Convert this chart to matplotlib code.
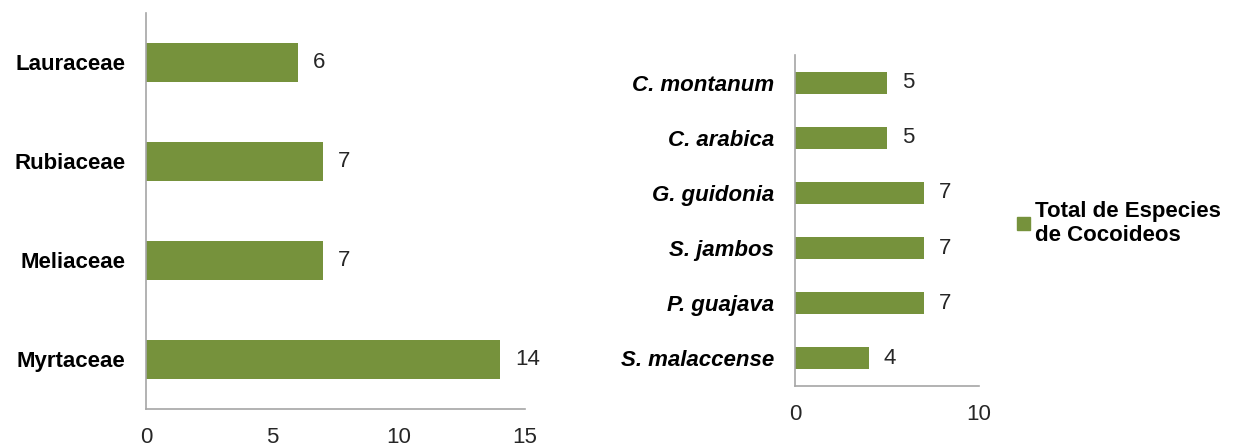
import matplotlib
matplotlib.use("Agg")
import matplotlib.pyplot as plt
from matplotlib.patches import Patch

plt.rcParams['font.family'] = ['Liberation Sans', 'DejaVu Sans']

families = ['Myrtaceae', 'Meliaceae', 'Rubiaceae', 'Lauraceae']
family_counts = [14, 7, 7, 6]

species = ['S. malaccense', 'P. guajava', 'S. jambos', 'G. guidonia', 'C. arabica', 'C. montanum']
species_counts = [4, 7, 7, 7, 5, 5]

legend_label = 'Total de Especies\nde Cocoideos'

GREEN = '#76923C'
AXIS = '#A6A6A6'
TEXT = '#262626'

fig = plt.figure(figsize=(12.33, 4.47), dpi=100)
ax1 = fig.add_axes([0.1184, 0.085, 0.3074, 0.886])
ax2 = fig.add_axes([0.6448, 0.1365, 0.1492, 0.7405])


def style(ax, labels, xmax, ticks, italic):
    ax.set_xlim(0, xmax)
    ax.set_ylim(-0.5, len(labels) - 0.5)
    ax.set_xticks(ticks)
    ax.set_yticks(range(len(labels)))
    ax.set_yticklabels(labels, fontsize=16, fontweight='bold',
                       fontstyle='italic' if italic else 'normal', color='black')
    ax.tick_params(axis='both', length=0)
    ax.tick_params(axis='y', pad=15)
    ax.tick_params(axis='x', pad=13, labelsize=16, labelcolor=TEXT)
    for s in ['top', 'right']:
        ax.spines[s].set_visible(False)
    for s in ['left', 'bottom']:
        ax.spines[s].set_color(AXIS)
        ax.spines[s].set_linewidth(1.2)


bars1 = ax1.barh(range(len(families)), family_counts, height=0.39, color=GREEN)
ax1.bar_label(bars1, padding=11, fontsize=16, color=TEXT)
style(ax1, families, 15, [0, 5, 10, 15], False)

bars2 = ax2.barh(range(len(species)), species_counts, height=0.4, color=GREEN)
ax2.bar_label(bars2, padding=11, fontsize=16, color=TEXT)
style(ax2, species, 10, [0, 10], True)

fig.legend(handles=[Patch(color=GREEN)], labels=[legend_label],
           loc='center left', bbox_to_anchor=(0.818, 0.5), frameon=False,
           prop={'size': 16, 'weight': 'bold'}, handlelength=0.55, handleheight=0.55,
           handletextpad=0.25, borderaxespad=0)

fig.savefig('out.png', dpi=100)
